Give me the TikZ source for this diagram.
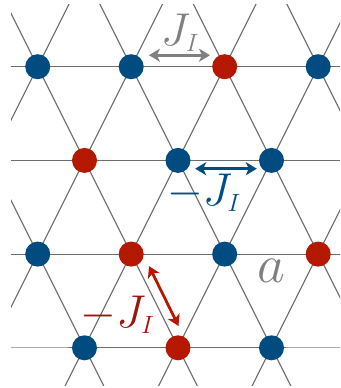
\RequirePackage{fix-cm}
\documentclass[tikz,border=0pt]{standalone}
\usetikzlibrary{arrows.meta}
\DeclareMathSizes{46}{46}{25}{18}
\DeclareMathSizes{54}{54}{30}{22}
\definecolor{nblue}{RGB}{0,75,128}
\definecolor{nred}{RGB}{180,24,0}
\definecolor{lgray}{RGB}{108,108,108}
\definecolor{fgray}{RGB}{170,170,170}
\definecolor{agray}{RGB}{128,128,128}
\definecolor{tblue}{RGB}{0,78,138}
\definecolor{tred}{RGB}{158,20,14}
\begin{document}
\begin{tikzpicture}[x=1pt,y=-1pt,
  lat/.style={draw=lgray,line width=1.1pt},
  site/.style={circle,minimum size=25pt,inner sep=0pt},
  bsite/.style={site,fill=nblue},
  rsite/.style={site,fill=nred},
  dbl/.style={{Stealth[length=11pt,width=13pt,inset=3pt]}-{Stealth[length=11pt,width=13pt,inset=3pt]},line width=2.8pt},
  lab/.style={inner sep=0pt,font=\fontsize{46}{50}\selectfont},
  biglab/.style={inner sep=0pt,font=\fontsize{54}{60}\selectfont}
]
\useasboundingbox (0,0) rectangle (340,388);
\begin{scope}
\clip (11,4) rectangle (340,385);
\foreach \y in {66.7,160.4,254.1} \draw[lat] (0,\y) -- (340,\y);
\draw[lat,draw=fgray] (0,347.8) -- (68,347.8);
\draw[lat] (68,347.8) -- (286,347.8);
\draw[lat,draw=fgray] (286,347.8) -- (340,347.8);
\foreach \k in {-3,...,3} \draw[lat] ({4.35+93.5*\k},0) -- ({4.35+93.5*\k+194},388);
\foreach \k in {-1,...,5} \draw[lat] ({71.05+93.5*\k},0) -- ({71.05+93.5*\k-194},388);
\end{scope}
% row 0
\node[bsite] (n00) at (37.7,66.7) {};
\node[bsite] (n01) at (131.2,66.7) {};
\node[rsite] (n02) at (224.7,66.7) {};
\node[bsite] (n03) at (318.2,66.7) {};
% row 1
\node[rsite] (n10) at (84.5,160.4) {};
\node[bsite] (n11) at (178,160.4) {};
\node[bsite] (n12) at (271.5,160.4) {};
% row 2
\node[bsite] (n20) at (37.7,254.1) {};
\node[rsite] (n21) at (131.2,254.1) {};
\node[bsite] (n22) at (224.7,254.1) {};
\node[rsite] (n23) at (318.2,254.1) {};
% row 3
\node[bsite] (n30) at (84.5,347.8) {};
\node[rsite] (n31) at (178,347.8) {};
\node[bsite] (n32) at (271.5,347.8) {};
% arrows
\draw[dbl,draw=agray,fill=agray] ([shift={(5,-11.5)}]n01.east) -- ([shift={(-2,-11.5)}]n02.west);
\draw[dbl,draw=nblue,fill=nblue] ([shift={(4.5,8.3)}]n11.east) -- ([shift={(-2,8.3)}]n12.west);
\draw[dbl,draw=nred,fill=nred] ([shift={(17.8,12)}]n21.center) -- ([shift={(0.5,-21.8)}]n31.center);
% labels
\node[lab,text=agray,anchor=base] (l1) at (180,45) {$J_I$};
\node[lab,text=tblue,anchor=base] (l2) at (204,205) {$-J_I$};
\node[lab,text=tred,anchor=base] (l3) at (117.5,327) {$-J_I$};
\node[biglab,text=agray,anchor=base] (l4) at (271.5,282) {$a$};
\end{tikzpicture}
\end{document}
